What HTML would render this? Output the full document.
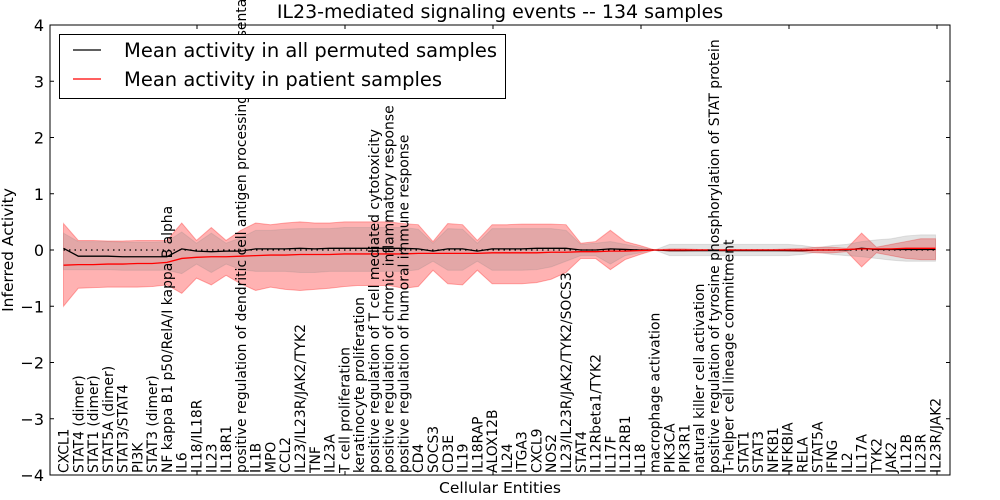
<!DOCTYPE html>
<html><head><meta charset="utf-8"><style>
html,body{margin:0;padding:0;background:#fff;}
svg{display:block;font-family:"DejaVu Sans","Liberation Sans",sans-serif;}
</style></head><body>
<svg id="chart" width="1000" height="500" viewBox="0 0 1000 500">
<rect x="0" y="0" width="1000" height="500" fill="#fff"/>
<g id="plot"></g>
<g id="labels"></g>
<g id="axes"></g>
<text x="500" y="18" font-size="19" text-anchor="middle">IL23-mediated signaling events -- 134 samples</text>
<text x="500" y="493" font-size="15.5" text-anchor="middle">Cellular Entities</text>
<text transform="translate(13,250) rotate(-90)" font-size="15.5" text-anchor="middle">Inferred Activity</text>
<g>
<rect x="59.5" y="34.5" width="446" height="64" fill="#fff" stroke="#000" stroke-width="1"/>
<g>
<line x1="73" y1="50" x2="101" y2="50" stroke="#000" stroke-width="1.3"/>
<text x="124" y="57" font-size="19.5">Mean activity in all permuted samples</text></g>
<g>
<line x1="73" y1="79" x2="101" y2="79" stroke="#f00" stroke-width="1.3"/>
<text x="124" y="86" font-size="19.5">Mean activity in patient samples</text></g>
</g>
</svg>
<script>
const categories=["CXCL1","STAT4 (dimer)","STAT1 (dimer)","STAT5A (dimer)","STAT3/STAT4","PI3K","STAT3 (dimer)","NF kappa B1 p50/RelA/I kappa B alpha","IL6","IL18/IL18R","IL23","IL18R1","positive regulation of dendritic cell antigen processing and presentation","IL1B","MPO","CCL2","IL23/IL23R/JAK2/TYK2","TNF","IL23A","T cell proliferation","keratinocyte proliferation","positive regulation of T cell mediated cytotoxicity","positive regulation of chronic inflammatory response","positive regulation of humoral immune response","CD4","SOCS3","CD3E","IL19","IL18RAP","ALOX12B","IL24","ITGA3","CXCL9","NOS2","IL23/IL23R/JAK2/TYK2/SOCS3","STAT4","IL12Rbeta1/TYK2","IL17F","IL12RB1","IL18","macrophage activation","PIK3CA","PIK3R1","natural killer cell activation","positive regulation of tyrosine phosphorylation of STAT protein","T-helper cell lineage commitment","STAT1","STAT3","NFKB1","NFKBIA","RELA","STAT5A","IFNG","IL2","IL17A","TYK2","JAK2","IL12B","IL23R","IL23R/JAK2"];
const permMean=[0.03,-0.11,-0.11,-0.11,-0.12,-0.12,-0.12,-0.12,0.02,-0.02,-0.03,-0.02,-0.02,0.02,0.02,0.02,0.03,0.02,0.03,0.03,0.03,0.03,0.03,0.03,0.02,-0.02,0.02,0.02,-0.02,0.02,0.02,0.02,0.03,0.03,0.03,0,0,0.02,0.01,0,0,-0.01,-0.01,-0.01,-0.01,-0.01,-0.01,-0.01,-0.01,-0.01,-0.01,0,0,0,0.03,0.01,0.01,0.01,0.01,0.01];
const permHi=[0.3,0.15,0.15,0.15,0.14,0.14,0.14,0.15,0.32,0.12,0.3,0.12,0.22,0.35,0.35,0.37,0.38,0.38,0.38,0.4,0.4,0.4,0.4,0.4,0.37,0.12,0.38,0.37,0.12,0.38,0.38,0.38,0.38,0.38,0.35,0.1,0.12,0.15,0.1,0.05,0,0.1,0.1,0.1,0.1,0.1,0.1,0.1,0.1,0.1,0.08,0.04,0.08,0.1,0.15,0.18,0.2,0.25,0.27,0.27];
const permLo=[-0.35,-0.35,-0.35,-0.35,-0.36,-0.36,-0.36,-0.36,-0.42,-0.25,-0.4,-0.25,-0.35,-0.38,-0.38,-0.38,-0.4,-0.4,-0.38,-0.38,-0.38,-0.38,-0.38,-0.38,-0.35,-0.2,-0.36,-0.36,-0.2,-0.36,-0.36,-0.36,-0.35,-0.3,-0.2,-0.1,-0.1,-0.25,-0.1,-0.05,0,-0.1,-0.1,-0.1,-0.1,-0.1,-0.1,-0.1,-0.1,-0.1,-0.08,-0.04,-0.08,-0.1,-0.12,-0.15,-0.18,-0.2,-0.2,-0.2];
const realMean=[-0.27,-0.26,-0.26,-0.25,-0.25,-0.24,-0.24,-0.22,-0.15,-0.13,-0.12,-0.12,-0.11,-0.1,-0.09,-0.09,-0.08,-0.08,-0.08,-0.07,-0.07,-0.07,-0.07,-0.07,-0.06,-0.06,-0.06,-0.06,-0.06,-0.05,-0.05,-0.05,-0.05,-0.04,-0.04,-0.03,-0.03,-0.02,-0.02,-0.01,0,0,0,0,0,0,0,0,0,0,0,0,0,0.01,0.02,0.02,0.02,0.03,0.03,0.03];
const realHi=[0.47,0.17,0.17,0.16,0.16,0.17,0.17,0.17,0.48,0.17,0.4,0.17,0.35,0.48,0.45,0.48,0.5,0.48,0.48,0.5,0.5,0.5,0.5,0.47,0.45,0.15,0.47,0.45,0.17,0.45,0.45,0.46,0.46,0.46,0.45,0.12,0.15,0.35,0.15,0.08,0,0.02,0.02,0.01,0.01,0.01,0.01,0.01,0.01,0.02,0.03,0.05,0.05,0.03,0.3,0.05,0.1,0.15,0.2,0.2];
const realLo=[-1.0,-0.68,-0.67,-0.66,-0.66,-0.66,-0.65,-0.62,-0.77,-0.5,-0.62,-0.45,-0.6,-0.72,-0.66,-0.7,-0.72,-0.7,-0.68,-0.65,-0.63,-0.63,-0.63,-0.68,-0.65,-0.36,-0.6,-0.62,-0.36,-0.6,-0.6,-0.6,-0.58,-0.52,-0.4,-0.15,-0.15,-0.35,-0.17,-0.08,0,-0.02,-0.02,-0.01,-0.01,-0.01,-0.01,-0.01,-0.01,-0.02,-0.03,-0.05,-0.05,-0.03,-0.3,-0.05,-0.1,-0.15,-0.17,-0.17];
const yTicks=[-4,-3,-2,-1,0,1,2,3,4];

const L=50,R=950,T=25,B=475,NS="http://www.w3.org/2000/svg";
const xs=i=>63.5+i*14.78;
const ys=v=>250-v*56.25;
function mk(tag,attrs,parent){const e=document.createElementNS(NS,tag);for(const k in attrs)e.setAttribute(k,attrs[k]);parent.appendChild(e);return e;}
const plot=document.getElementById('plot'),axes=document.getElementById('axes'),labels=document.getElementById('labels');
function band(hi,lo){let d='';hi.forEach((v,i)=>d+=(i?'L':'M')+xs(i)+','+ys(v));for(let i=lo.length-1;i>=0;i--)d+='L'+xs(i)+','+ys(lo[i]);return d+'Z';}
function line(a){return a.map((v,i)=>(i?'L':'M')+xs(i)+','+ys(v)).join('');}
const rb=mk('path',{d:band(realHi,realLo),fill:'#ff0000','fill-opacity':0.3,stroke:'#ff0000','stroke-opacity':0.3},plot);


const pb=mk('path',{d:band(permHi,permLo),fill:'#808080','fill-opacity':0.22,stroke:'#808080','stroke-opacity':0.2},plot);


const zl=mk('line',{x1:xs(0),x2:xs(categories.length-1),y1:ys(0),y2:ys(0),stroke:'#000','stroke-dasharray':'1.5,4','stroke-width':1.2},plot);


const pl=mk('path',{d:line(permMean),fill:'none',stroke:'#000','stroke-width':1.3},plot);


const rl=mk('path',{d:line(realMean),fill:'none',stroke:'#f00','stroke-width':1.3},plot);


categories.forEach((c,i)=>{
 const t=mk('text',{transform:`translate(${xs(i)+5},473) rotate(-90)`,'font-size':13.9},labels);
 t.textContent=c;
 
 
});
const fr=mk('rect',{x:L,y:T,width:R-L,height:B-T,fill:'none',stroke:'#000','stroke-width':1},axes);


yTicks.forEach(v=>{
 mk('line',{x1:L,x2:L+4,y1:ys(v),y2:ys(v),stroke:'#000'},axes);
 mk('line',{x1:R-4,x2:R,y1:ys(v),y2:ys(v),stroke:'#000'},axes);
 const t=mk('text',{x:L-6,y:ys(v)+6,'font-size':16,'text-anchor':'end'},axes);
 t.textContent=(v<0?'\u2212':'')+Math.abs(v);
 
 
});
for(let k=0;k<7;k++){const x=49+148*k;if(x<=L||x>=R)continue;
 mk('line',{x1:x,x2:x,y1:T,y2:T+4,stroke:'#000'},axes);
 mk('line',{x1:x,x2:x,y1:B-4,y2:B,stroke:'#000'},axes);}
</script>
</body></html>
